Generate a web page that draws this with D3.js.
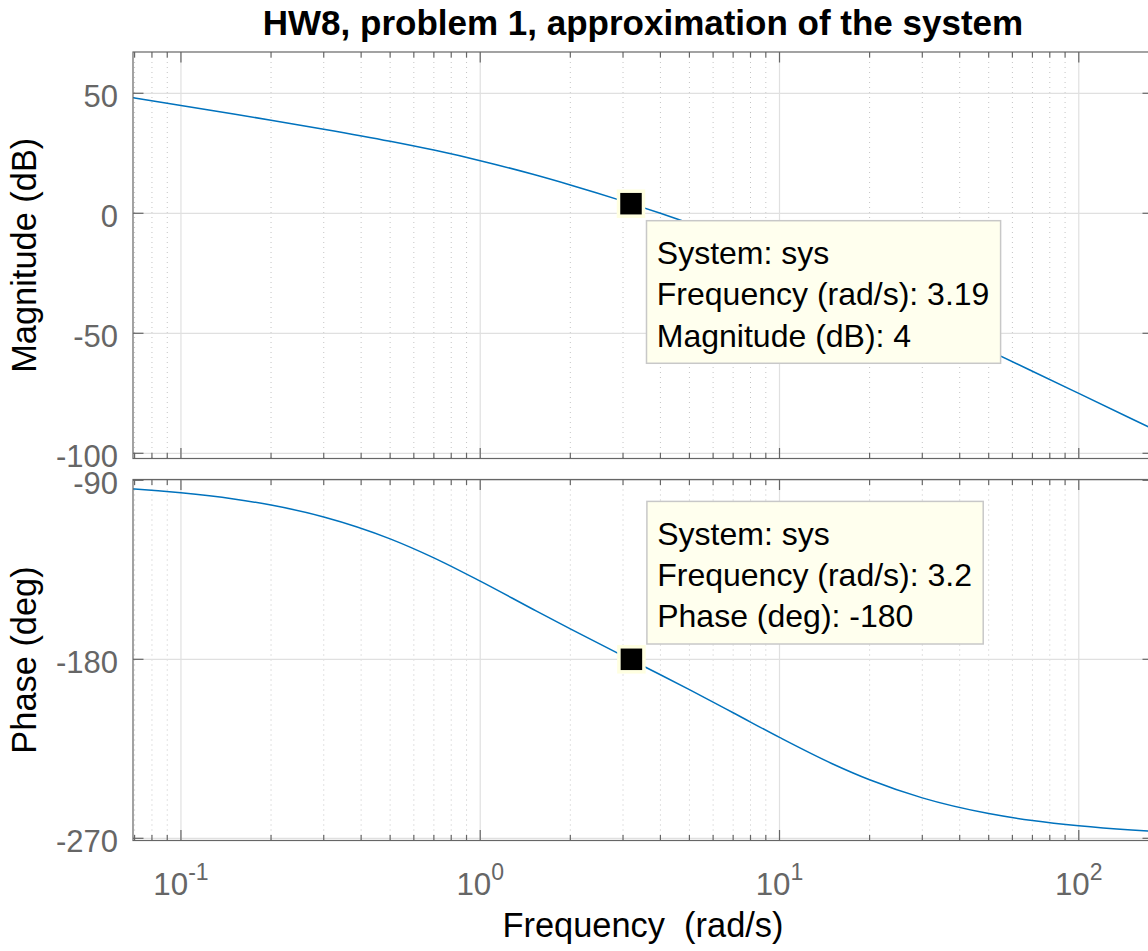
<!DOCTYPE html>
<html><head><meta charset="utf-8">
<script src="https://cdn.jsdelivr.net/npm/d3@7"></script>
<style>html,body{margin:0;padding:0;background:#fff;} svg{display:block;font-family:"Liberation Sans",Arial,Helvetica,sans-serif;}</style>
</head><body><svg id="c" width="1148" height="951"></svg>
<script>
// ---- data ----
const freq     = [0.069, 0.07, 0.1, 0.15, 0.2, 0.3, 0.5, 0.7, 1, 1.5, 2, 3, 3.19, 4, 5, 7, 10, 15, 20, 30, 50, 70, 100, 150, 177];
const magDb    = [48.18, 48.06, 44.94, 41.36, 38.79, 35.06, 30.02, 26.33, 21.93, 16.24, 11.80, 5.07, 4.00, 0.0, -4.12, -10.64, -18.07, -27.19, -34.06, -44.11, -57.13, -65.81, -75.06, -85.6, -89.91];
const phaseDeg = [-94.34, -94.40, -96.28, -99.39, -102.46, -108.42, -119.43, -128.99, -140.71, -154.84, -164.74, -178.27, -180.29, -187.76, -195.26, -206.86, -219.29, -232.50, -240.57, -249.66, -257.54, -261.05, -263.72, -265.81, -266.45];
const xDomain = [0.06915, 177];
const magDomain = [-102.17, 67.2];
const phaseDomain = [-271.1, -89.6];
const xTickExps = [-1, 0, 1, 2];
const magTicks = [50, 0, -50, -100];
const phaseTicks = [-90, -180, -270];
const tipMag = {system: "sys", freq: 3.19, value: 4, label: "Magnitude (dB)"};
const tipPhase = {system: "sys", freq: 3.2, value: -180, label: "Phase (deg)"};
const titleText = "HW8, problem 1, approximation of the system";
const xLabelText = "Frequency  (rad/s)";

// ---- layout ----
const L = 133, R = 1153;
const top1 = 52, bot1 = 458.5, top2 = 479.5, bot2 = 840.5;
const svg = d3.select("#c");
svg.append("rect").attr("width",1148).attr("height",951).attr("fill","#fff");

const x = d3.scaleLog().domain(xDomain).range([L, R]);
const yMag = d3.scaleLinear().domain(magDomain).range([bot1, top1]);
const yPh = d3.scaleLinear().domain(phaseDomain).range([bot2, top2]);

const axisCol = "#666666", tickTextCol = "#666666";
const minorVals = [];
for (let d = -2; d <= 3; d++) for (let m = 2; m <= 9; m++) {
  const v = m * Math.pow(10, d);
  if (v > xDomain[0] && v < xDomain[1]) minorVals.push(v);
}
const majorVals = xTickExps.map(e => Math.pow(10, e));

const defs = svg.append("defs");
[[top1,bot1,"clip1"],[top2,bot2,"clip2"]].forEach(([t,b,id]) => {
  defs.append("clipPath").attr("id", id).append("rect").attr("x", L).attr("y", t).attr("width", R-L).attr("height", b-t);
});

function panel(t, b, y, yTicks, vals, clipId, showXLabels) {
  const g = svg.append("g");
  g.selectAll(null).data(minorVals).enter().append("line")
    .attr("x1", d => x(d)).attr("x2", d => x(d)).attr("y1", t).attr("y2", b)
    .attr("stroke", "#c4c4c4").attr("stroke-width", 1).attr("stroke-dasharray", "1,4");
  g.selectAll(null).data(majorVals).enter().append("line")
    .attr("x1", d => x(d)).attr("x2", d => x(d)).attr("y1", t).attr("y2", b)
    .attr("stroke", "#e0e0e0").attr("stroke-width", 1.2);
  g.selectAll(null).data(yTicks).enter().append("line")
    .attr("x1", L).attr("x2", R).attr("y1", d => y(d)).attr("y2", d => y(d))
    .attr("stroke", "#e0e0e0").attr("stroke-width", 1.2);
  const line = d3.line().x((d,i) => x(freq[i])).y(d => y(d)).curve(d3.curveMonotoneX);
  g.append("path").datum(vals).attr("d", line).attr("fill", "none")
    .attr("stroke", "#0072BD").attr("stroke-width", 1.5).attr("clip-path", `url(#${clipId})`);
  g.append("rect").attr("x", L).attr("y", t).attr("width", R-L).attr("height", b-t)
    .attr("fill", "none").attr("stroke", axisCol).attr("stroke-width", 1.2);
  const tk = (arr, len) => {
    g.selectAll(null).data(arr).enter().append("line")
      .attr("x1", d => x(d)).attr("x2", d => x(d)).attr("y1", b).attr("y2", b - len)
      .attr("stroke", axisCol).attr("stroke-width", 1.2);
    g.selectAll(null).data(arr).enter().append("line")
      .attr("x1", d => x(d)).attr("x2", d => x(d)).attr("y1", t).attr("y2", t + len)
      .attr("stroke", axisCol).attr("stroke-width", 1.2);
  };
  tk(minorVals, 5.5); tk(majorVals, 10.5);
  g.selectAll(null).data(yTicks).enter().append("line")
    .attr("x1", L).attr("x2", L + 10.5).attr("y1", d => y(d)).attr("y2", d => y(d))
    .attr("stroke", axisCol).attr("stroke-width", 1.2);
  g.selectAll(null).data(yTicks).enter().append("line")
    .attr("x1", R).attr("x2", R - 10.5).attr("y1", d => y(d)).attr("y2", d => y(d))
    .attr("stroke", axisCol).attr("stroke-width", 1.2);
  g.selectAll(null).data(yTicks).enter().append("text")
    .attr("x", L - 15).attr("y", d => y(d) + 13.4).attr("text-anchor", "end")
    .attr("font-size", 31).attr("fill", tickTextCol).text(d => d);
  if (showXLabels) {
    const tl = g.selectAll(null).data(xTickExps).enter().append("text")
      .attr("x", d => x(Math.pow(10, d))).attr("y", 895).attr("text-anchor", "middle")
      .attr("font-size", 31.3).attr("fill", tickTextCol);
    tl.append("tspan").text("10");
    tl.append("tspan").attr("dy", -15).attr("font-size", 23).text(d => d);
  }
}
panel(top1, bot1, yMag, magTicks, magDb, "clip1", false);
panel(top2, bot2, yPh, phaseTicks, phaseDeg, "clip2", true);

function datatip(tip, y, below) {
  const mx = x(tip.freq), my = y(tip.value);
  const g = svg.append("g");
  const lines = [`System: ${tip.system}`, `Frequency (rad/s): ${tip.freq}`, `${tip.label}: ${tip.value}`];
  const boxH = 142.6;
  const bx = mx + 15.5;
  const by = below ? my + 17 : my - 15.3 - boxH;
  const rect = g.append("rect").attr("x", bx).attr("y", by).attr("height", boxH)
    .attr("fill", "#ffffee").attr("stroke", "#c8c8c8").attr("stroke-width", 1.5);
  const txt = g.selectAll(null).data(lines).enter().append("text")
    .attr("x", bx + 10.3).attr("y", (d,i) => by + 43.3 + i * 41.3)
    .attr("font-size", 32).attr("fill", "#000").text(d => d);
  let w = 0; txt.each(function(){ w = Math.max(w, this.getComputedTextLength()); });
  rect.attr("width", w + 21.5);
  svg.append("rect").attr("x", mx - 12.5).attr("y", my - 12.5).attr("width", 25).attr("height", 25)
    .attr("fill", "#000").attr("stroke", "#ffffe1").attr("stroke-width", 3.5);
}
datatip(tipMag, yMag, true);
datatip(tipPhase, yPh, false);

svg.append("text").attr("x", (L + R) / 2).attr("y", 35).attr("text-anchor", "middle")
  .attr("font-size", 35).attr("font-weight", "bold").attr("fill", "#000").text(titleText);
svg.append("text").attr("x", (L + R) / 2).attr("y", 937).attr("text-anchor", "middle")
  .attr("font-size", 34.4).attr("fill", "#000").attr("xml:space", "preserve").style("white-space", "pre").text(xLabelText);
svg.append("text").attr("transform", `translate(36,${(top1 + bot1) / 2}) rotate(-90)`)
  .attr("text-anchor", "middle").attr("font-size", 34.4).attr("fill", "#000").text("Magnitude (dB)");
svg.append("text").attr("transform", `translate(36,${(top2 + bot2) / 2}) rotate(-90)`)
  .attr("text-anchor", "middle").attr("font-size", 34.4).attr("fill", "#000").text("Phase (deg)");
</script>
</body></html>
